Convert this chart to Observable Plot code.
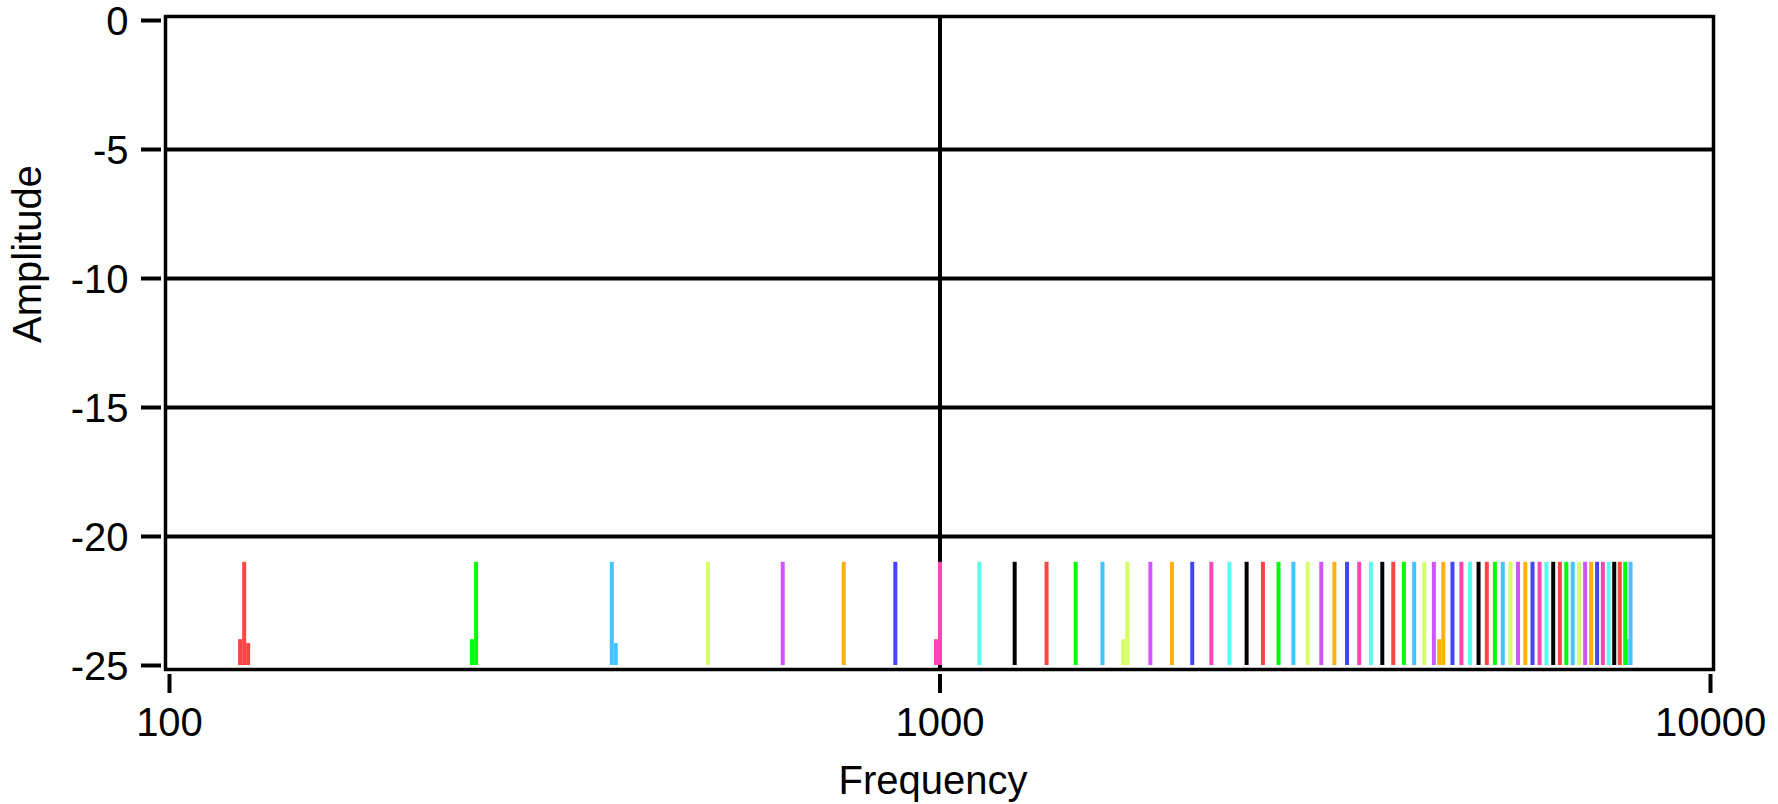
<!DOCTYPE html>
<html>
<head>
<meta charset="utf-8">
<script src="https://cdn.jsdelivr.net/npm/d3@7"></script>
<script src="https://cdn.jsdelivr.net/npm/@observablehq/plot@0.6"></script>
<style>
  html, body { margin: 0; padding: 0; background: #fff; }
  svg { display: block; }
</style>
</head>
<body>
<div id="chart"></div>
<script>
// Harmonic peaks (Hz) and their amplitudes
const frequencies = [125, 250, 375, 500, 625, 750, 875, 1000, 1125, 1250,
  1375, 1500, 1625, 1750, 1875, 2000, 2125, 2250, 2375, 2500,
  2625, 2750, 2875, 3000, 3125, 3250, 3375, 3500, 3625, 3750,
  3875, 4000, 4125, 4250, 4375, 4500, 4625, 4750, 4875, 5000,
  5125, 5250, 5375, 5500, 5625, 5750, 5875, 6000, 6125, 6250,
  6375, 6500, 6625, 6750, 6875, 7000, 7125, 7250, 7375, 7500,
  7625, 7750, 7875];
const amplitudes = [-21, -21, -21, -21, -21, -21, -21, -21, -21, -21,
  -21, -21, -21, -21, -21, -21, -21, -21, -21, -21,
  -21, -21, -21, -21, -21, -21, -21, -21, -21, -21,
  -21, -21, -21, -21, -21, -21, -21, -21, -21, -21,
  -21, -21, -21, -21, -21, -21, -21, -21, -21, -21,
  -21, -21, -21, -21, -21, -21, -21, -21, -21, -21,
  -21, -21, -21];
// plot colours, cycling per harmonic
const palette = ["#ff4444", "#00ff00", "#44c4ff", "#d4ff66", "#d055ff",
  "#ffb011", "#4444ff", "#ff44b4", "#55fff0", "#000000"];
// small neighbouring bins next to some peaks
const sideFrequencies = [123.5, 126.5, 247, 379.5, 988, 1729, 4446, 7781];
const sideAmplitudes = [-24, -24.15, -24, -24.15, -24, -24, -24, -24];
const sideSeries = [0, 0, 1, 2, 7, 3, 5, 2];
// axes
const xTicks = [100, 1000, 10000];
const yTicks = [0, -5, -10, -15, -20, -25];
const yGrid = [-5, -10, -15, -20];
const xGrid = [1000];

const peaks = frequencies.map((f, i) => ({f, a: amplitudes[i], s: i % palette.length}));
const sides = sideFrequencies.map((f, i) => ({f, a: sideAmplitudes[i], s: sideSeries[i]}));

const font = "'Liberation Sans', Arial, sans-serif";
const chart = Plot.plot({
  width: 1778,
  height: 804,
  marginLeft: 169,
  marginRight: 68,
  marginTop: 20,
  marginBottom: 139,
  style: {fontFamily: font, fontSize: "40px", background: "#fff", color: "#000"},
  x: {type: "log", domain: [100, 10000], axis: null},
  y: {domain: [-25, 0], axis: null},
  color: {type: "ordinal", domain: d3.range(palette.length), range: palette},
  marks: [
    Plot.ruleY(yGrid, {stroke: "#000", strokeWidth: 4, insetLeft: -4, insetRight: -3}),
    Plot.ruleX(xGrid, {stroke: "#000", strokeWidth: 4, insetTop: -4, insetBottom: -4}),
    Plot.ruleX(sides, {x: "f", y1: -25, y2: "a", stroke: "s", strokeWidth: 4}),
    Plot.ruleX(peaks, {x: "f", y1: -25, y2: "a", stroke: "s", strokeWidth: 4}),
    Plot.frame({stroke: "#000", strokeWidth: 3.5, insetLeft: -4, insetRight: -3, insetTop: -4, insetBottom: -4}),
    Plot.axisX(xTicks, {tickSize: 19, dy: 9, tickPadding: 14, tickFormat: d => String(d),
      strokeWidth: 4, fontSize: 40, label: null}),
    Plot.axisY(yTicks, {tickSize: 20, dx: -8, tickFormat: () => "", strokeWidth: 4, label: null}),
    Plot.text(yTicks, {y: d => d, text: d => String(d), frameAnchor: "left", dx: -41, dy: 2,
      textAnchor: "end", fontSize: 40}),
    Plot.text(["Frequency"], {frameAnchor: "bottom", dy: 100, dx: -7, lineAnchor: "top", fontSize: 40}),
    Plot.text(["Amplitude"], {frameAnchor: "left", dx: -141, rotate: -90, fontSize: 40})
  ]
});
document.getElementById("chart").appendChild(chart);
</script>
</body>
</html>
